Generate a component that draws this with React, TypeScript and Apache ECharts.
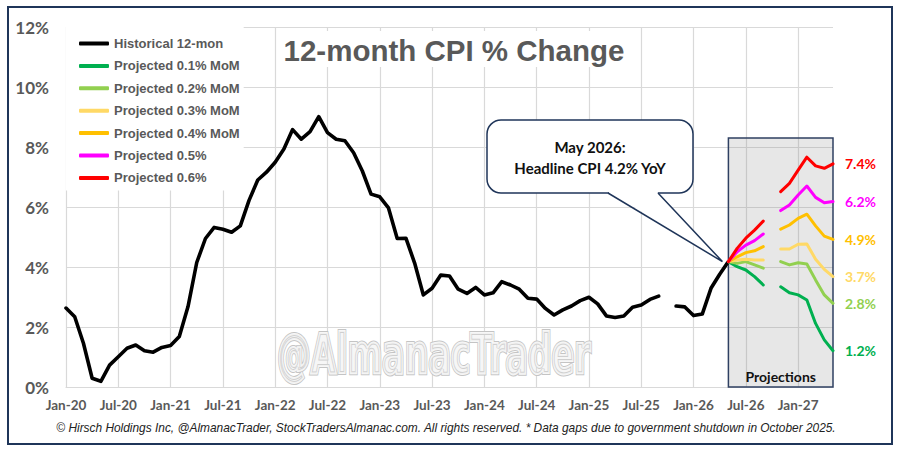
import React, { useEffect, useRef } from 'react';
import * as echarts from 'echarts';

const MONTHS = ['Jan', 'Feb', 'Mar', 'Apr', 'May', 'Jun', 'Jul', 'Aug', 'Sep', 'Oct', 'Nov', 'Dec'];
const YEARS = ['20', '21', '22', '23', '24', '25', '26', '27'];
const categories: string[] = [];
YEARS.forEach((y) => MONTHS.forEach((m) => categories.push(`${m}-${y}`)));
const CATS = categories.slice(0, 89); // Jan-20 .. May-27

// Historical 12-month CPI % change, Jan-20 .. May-26 (Oct-25 missing)
const historical: (number | null)[] = [
  2.63, 2.34, 1.46, 0.29, 0.19, 0.73, 1.01, 1.29, 1.4, 1.21, 1.16, 1.32,
  1.38, 1.68, 2.68, 4.15, 4.95, 5.32, 5.26, 5.16, 5.37, 6.22, 6.9, 7.16,
  7.49, 7.93, 8.58, 8.26, 8.51, 9.01, 8.48, 8.26, 8.21, 7.81, 7.2, 6.43,
  6.34, 5.97, 4.95, 4.96, 4.13, 3.07, 3.29, 3.73, 3.7, 3.26, 3.12, 3.32,
  3.07, 3.14, 3.51, 3.4, 3.26, 2.96, 2.93, 2.62, 2.4, 2.57, 2.7, 2.88,
  2.99, 2.77, 2.37, 2.32, 2.37, 2.66, 2.73, 2.92, 3.03, null, 2.7, 2.67,
  2.38, 2.43, 3.29, 3.76, 4.18,
];

// Projections May-26 .. May-27 (Oct-26 missing)
const PROJ_START = 'May-26';
const proj01: (number | null)[] = [4.18, 4.01, 3.9, 3.68, 3.4, null, 3.34, 3.14, 3.07, 2.9, 2.12, 1.57, 1.21];
const proj02: (number | null)[] = [4.18, 4.12, 4.18, 4.07, 3.96, null, 4.18, 4.07, 4.14, 4.1, 3.57, 3.07, 2.79];
const proj03: (number | null)[] = [4.18, 4.23, 4.26, 4.23, 4.23, null, 4.6, 4.6, 4.76, 4.77, 4.26, 3.92, 3.68];
const proj04: (number | null)[] = [4.18, 4.34, 4.48, 4.54, 4.68, null, 5.26, 5.4, 5.62, 5.76, 5.37, 5.03, 4.92];
const proj05: (number | null)[] = [4.18, 4.51, 4.73, 4.88, 5.1, null, 5.88, 6.07, 6.4, 6.7, 6.32, 6.14, 6.18];
const proj06: (number | null)[] = [4.18, 4.62, 4.96, 5.23, 5.53, null, 6.51, 6.79, 7.23, 7.66, 7.37, 7.29, 7.44];

const SERIES_NAMES = [
  'Historical 12-mon',
  'Projected 0.1% MoM',
  'Projected 0.2% MoM',
  'Projected 0.3% MoM',
  'Projected 0.4% MoM',
  'Projected 0.5%',
  'Projected 0.6%',
];
const SERIES_COLORS = ['#000000', '#00B050', '#92D050', '#FFD966', '#FFC000', '#FF00FF', '#FF0000'];
const PROJECTIONS = [proj01, proj02, proj03, proj04, proj05, proj06];

const Y_TICKS = [0, 2, 4, 6, 8, 10, 12];
const PROJ_BOX_TOP = 8.3;

const CALIBRI = 'Lato, "Open Sans", sans-serif';
const ARIAL = '"Liberation Sans", Arial, sans-serif';
const NAVY = '#1f3559';

export default function App() {
  const ref = useRef<HTMLDivElement>(null);

  useEffect(() => {
    document.body.style.margin = '0';
    if (!ref.current) return;
    const chart = echarts.init(ref.current, undefined, { renderer: 'svg' });
    const startIdx = CATS.indexOf(PROJ_START);
    const pad = (vals: (number | null)[]) => {
      const arr: (number | null)[] = new Array(CATS.length).fill(null);
      vals.forEach((v, i) => (arr[startIdx + i] = v));
      return arr;
    };
    const histFull: (number | null)[] = new Array(CATS.length).fill(null);
    historical.forEach((v, i) => (histFull[i] = v));

    const every6 = (i: number) => i % 6 === 0;

    const series: any[] = [
      {
        name: SERIES_NAMES[0],
        type: 'line',
        data: histFull,
        showSymbol: false,
        symbol: 'none',
        connectNulls: false,
        lineStyle: { color: SERIES_COLORS[0], width: 3.6, cap: 'round', join: 'round' },
        itemStyle: { color: SERIES_COLORS[0] },
        z: 2,
        markArea: {
          silent: true,
          itemStyle: { color: 'rgba(120,120,120,0.18)', borderColor: '#2f4062', borderWidth: 1.5 },
          label: {
            show: true,
            position: 'insideBottom',
            distance: 4,
            formatter: 'Projections',
            color: '#111',
            fontFamily: CALIBRI,
            fontWeight: 'bold',
            fontSize: 14,
          },
          data: [[{ xAxis: PROJ_START, yAxis: 0 }, { xAxis: CATS[CATS.length - 1], yAxis: PROJ_BOX_TOP }]],
        },
      },
      ...PROJECTIONS.map((vals, k) => ({
        name: SERIES_NAMES[k + 1],
        type: 'line',
        data: pad(vals),
        showSymbol: false,
        symbol: 'none',
        connectNulls: false,
        lineStyle: { color: SERIES_COLORS[k + 1], width: 3, cap: 'round', join: 'round' },
        itemStyle: { color: SERIES_COLORS[k + 1] },
        z: 3,
        endLabel: {
          show: true,
          distance: 12,
          formatter: (p: any) => {
            const v = Array.isArray(p.value) ? p.value[p.value.length - 1] : p.value;
            return Number(v).toFixed(1) + '%';
          },
          color: SERIES_COLORS[k + 1],
          fontFamily: CALIBRI,
          fontWeight: 'bold',
          fontSize: 14,
        },
      })),
    ];

    const option: any = {
      animation: false,
      backgroundColor: '#ffffff',
      grid: { left: 66, right: 67, top: 27, bottom: 65, containLabel: false },
      legend: {
        data: SERIES_NAMES,
        orient: 'vertical',
        left: 66,
        top: 27,
        padding: [9, 4, 5, 13],
        backgroundColor: '#ffffff',
        itemWidth: 30,
        itemHeight: 4,
        itemGap: 7.4,
        icon: 'roundRect',
        selectedMode: false,
        textStyle: {
          fontFamily: ARIAL,
          fontWeight: 'bold',
          fontSize: 13,
          color: '#595959',
          lineHeight: 15,
        },
      },
      xAxis: {
        type: 'category',
        data: CATS,
        boundaryGap: false,
        axisLine: { show: true, lineStyle: { color: '#d9d9d9', width: 1.2 } },
        axisTick: { show: false, interval: every6 },
        axisLabel: {
          interval: every6,
          margin: 11,
          color: '#595959',
          fontFamily: CALIBRI,
          fontWeight: 'bold',
          fontSize: 13.5,
        },
        splitLine: { show: true, interval: every6, lineStyle: { color: '#d9d9d9', width: 1.2 } },
      },
      yAxis: {
        type: 'value',
        min: Y_TICKS[0],
        max: Y_TICKS[Y_TICKS.length - 1],
        interval: 2,
        axisLine: { show: false },
        axisTick: { show: false },
        axisLabel: {
          formatter: '{value}%',
          margin: 17,
          color: '#595959',
          fontFamily: CALIBRI,
          fontWeight: 'bold',
          fontSize: 17,
        },
        splitLine: { show: true, lineStyle: { color: '#d9d9d9', width: 1.2 } },
      },
      series,
    };
    chart.setOption(option);

    const tip = chart.convertToPixel({ xAxisIndex: 0, yAxisIndex: 0 }, [PROJ_START, historical[historical.length - 1] as number]) as number[];
    const tipX = tip[0] - 6;
    const tipY = tip[1];

    chart.setOption({
      graphic: [
        // outer frame
        {
          type: 'rect',
          z: 10,
          silent: true,
          shape: { x: 8, y: 7, width: 884, height: 437 },
          style: { fill: 'none', stroke: NAVY, lineWidth: 2 },
        },
        // title
        {
          type: 'rect',
          z: 3,
          silent: true,
          shape: { x: 278, y: 31, width: 359, height: 36 },
          style: { fill: '#ffffff' },
        },
        {
          type: 'text',
          z: 4,
          silent: true,
          x: 454,
          y: 50,
          style: {
            text: '12-month CPI % Change',
            fill: '#595959',
            font: `bold 29.5px ${ARIAL}`,
            textAlign: 'center',
            textVerticalAlign: 'middle',
          },
        },
        // watermark
        {
          type: 'text',
          z: 1,
          silent: true,
          x: 434,
          y: 354,
          scaleX: 0.66,
          style: {
            text: '@AlmanacTrader',
            fill: 'rgba(0,0,0,0)',
            stroke: '#c4c4c4',
            lineWidth: 4,
            font: `bold 56px "DejaVu Sans Condensed", "DejaVu Sans", sans-serif`,
            textAlign: 'center',
            textVerticalAlign: 'middle',
          },
        },
        {
          type: 'text',
          z: 1,
          silent: true,
          x: 434,
          y: 354,
          scaleX: 0.66,
          style: {
            text: '@AlmanacTrader',
            fill: 'rgba(230,230,230,0.35)',
            stroke: '#f7f7f7',
            lineWidth: 2,
            font: `bold 56px "DejaVu Sans Condensed", "DejaVu Sans", sans-serif`,
            textAlign: 'center',
            textVerticalAlign: 'middle',
          },
        },
        // callout
        {
          type: 'rect',
          z: 6,
          silent: true,
          shape: { x: 487, y: 120, width: 206, height: 73, r: 14 },
          style: { fill: '#ffffff', stroke: NAVY, lineWidth: 1.5 },
        },
        {
          type: 'polygon',
          z: 7,
          silent: true,
          shape: { points: [[609, 191.5], [tipX, tipY], [657, 191.5]] },
          style: { fill: '#ffffff' },
        },
        {
          type: 'rect',
          z: 7,
          silent: true,
          shape: { x: 609, y: 191, width: 48, height: 3 },
          style: { fill: '#ffffff' },
        },
        {
          type: 'polyline',
          z: 8,
          silent: true,
          shape: { points: [[608, 193], [tipX, tipY], [658, 193]] },
          style: { fill: 'none', stroke: NAVY, lineWidth: 1.5 },
        },
        {
          type: 'text',
          z: 8,
          silent: true,
          x: 590,
          y: 147,
          style: {
            text: 'May 2026:',
            fill: '#111',
            font: `bold 15px ${CALIBRI}`,
            textAlign: 'center',
            textVerticalAlign: 'middle',
          },
        },
        {
          type: 'text',
          z: 8,
          silent: true,
          x: 590,
          y: 168,
          style: {
            text: 'Headline CPI 4.2% YoY',
            fill: '#111',
            font: `bold 15px ${CALIBRI}`,
            textAlign: 'center',
            textVerticalAlign: 'middle',
          },
        },
        // footer
        {
          type: 'text',
          z: 8,
          silent: true,
          x: 446,
          y: 428,
          style: {
            text: '© Hirsch Holdings Inc, @AlmanacTrader, StockTradersAlmanac.com. All rights reserved. * Data gaps due to government shutdown in October 2025.',
            fill: '#222',
            font: `italic 11.9px ${ARIAL}`,
            textAlign: 'center',
            textVerticalAlign: 'middle',
          },
        },
      ],
    });

    return () => chart.dispose();
  }, []);

  return <div ref={ref} style={{ width: 900, height: 452 }} />;
}
